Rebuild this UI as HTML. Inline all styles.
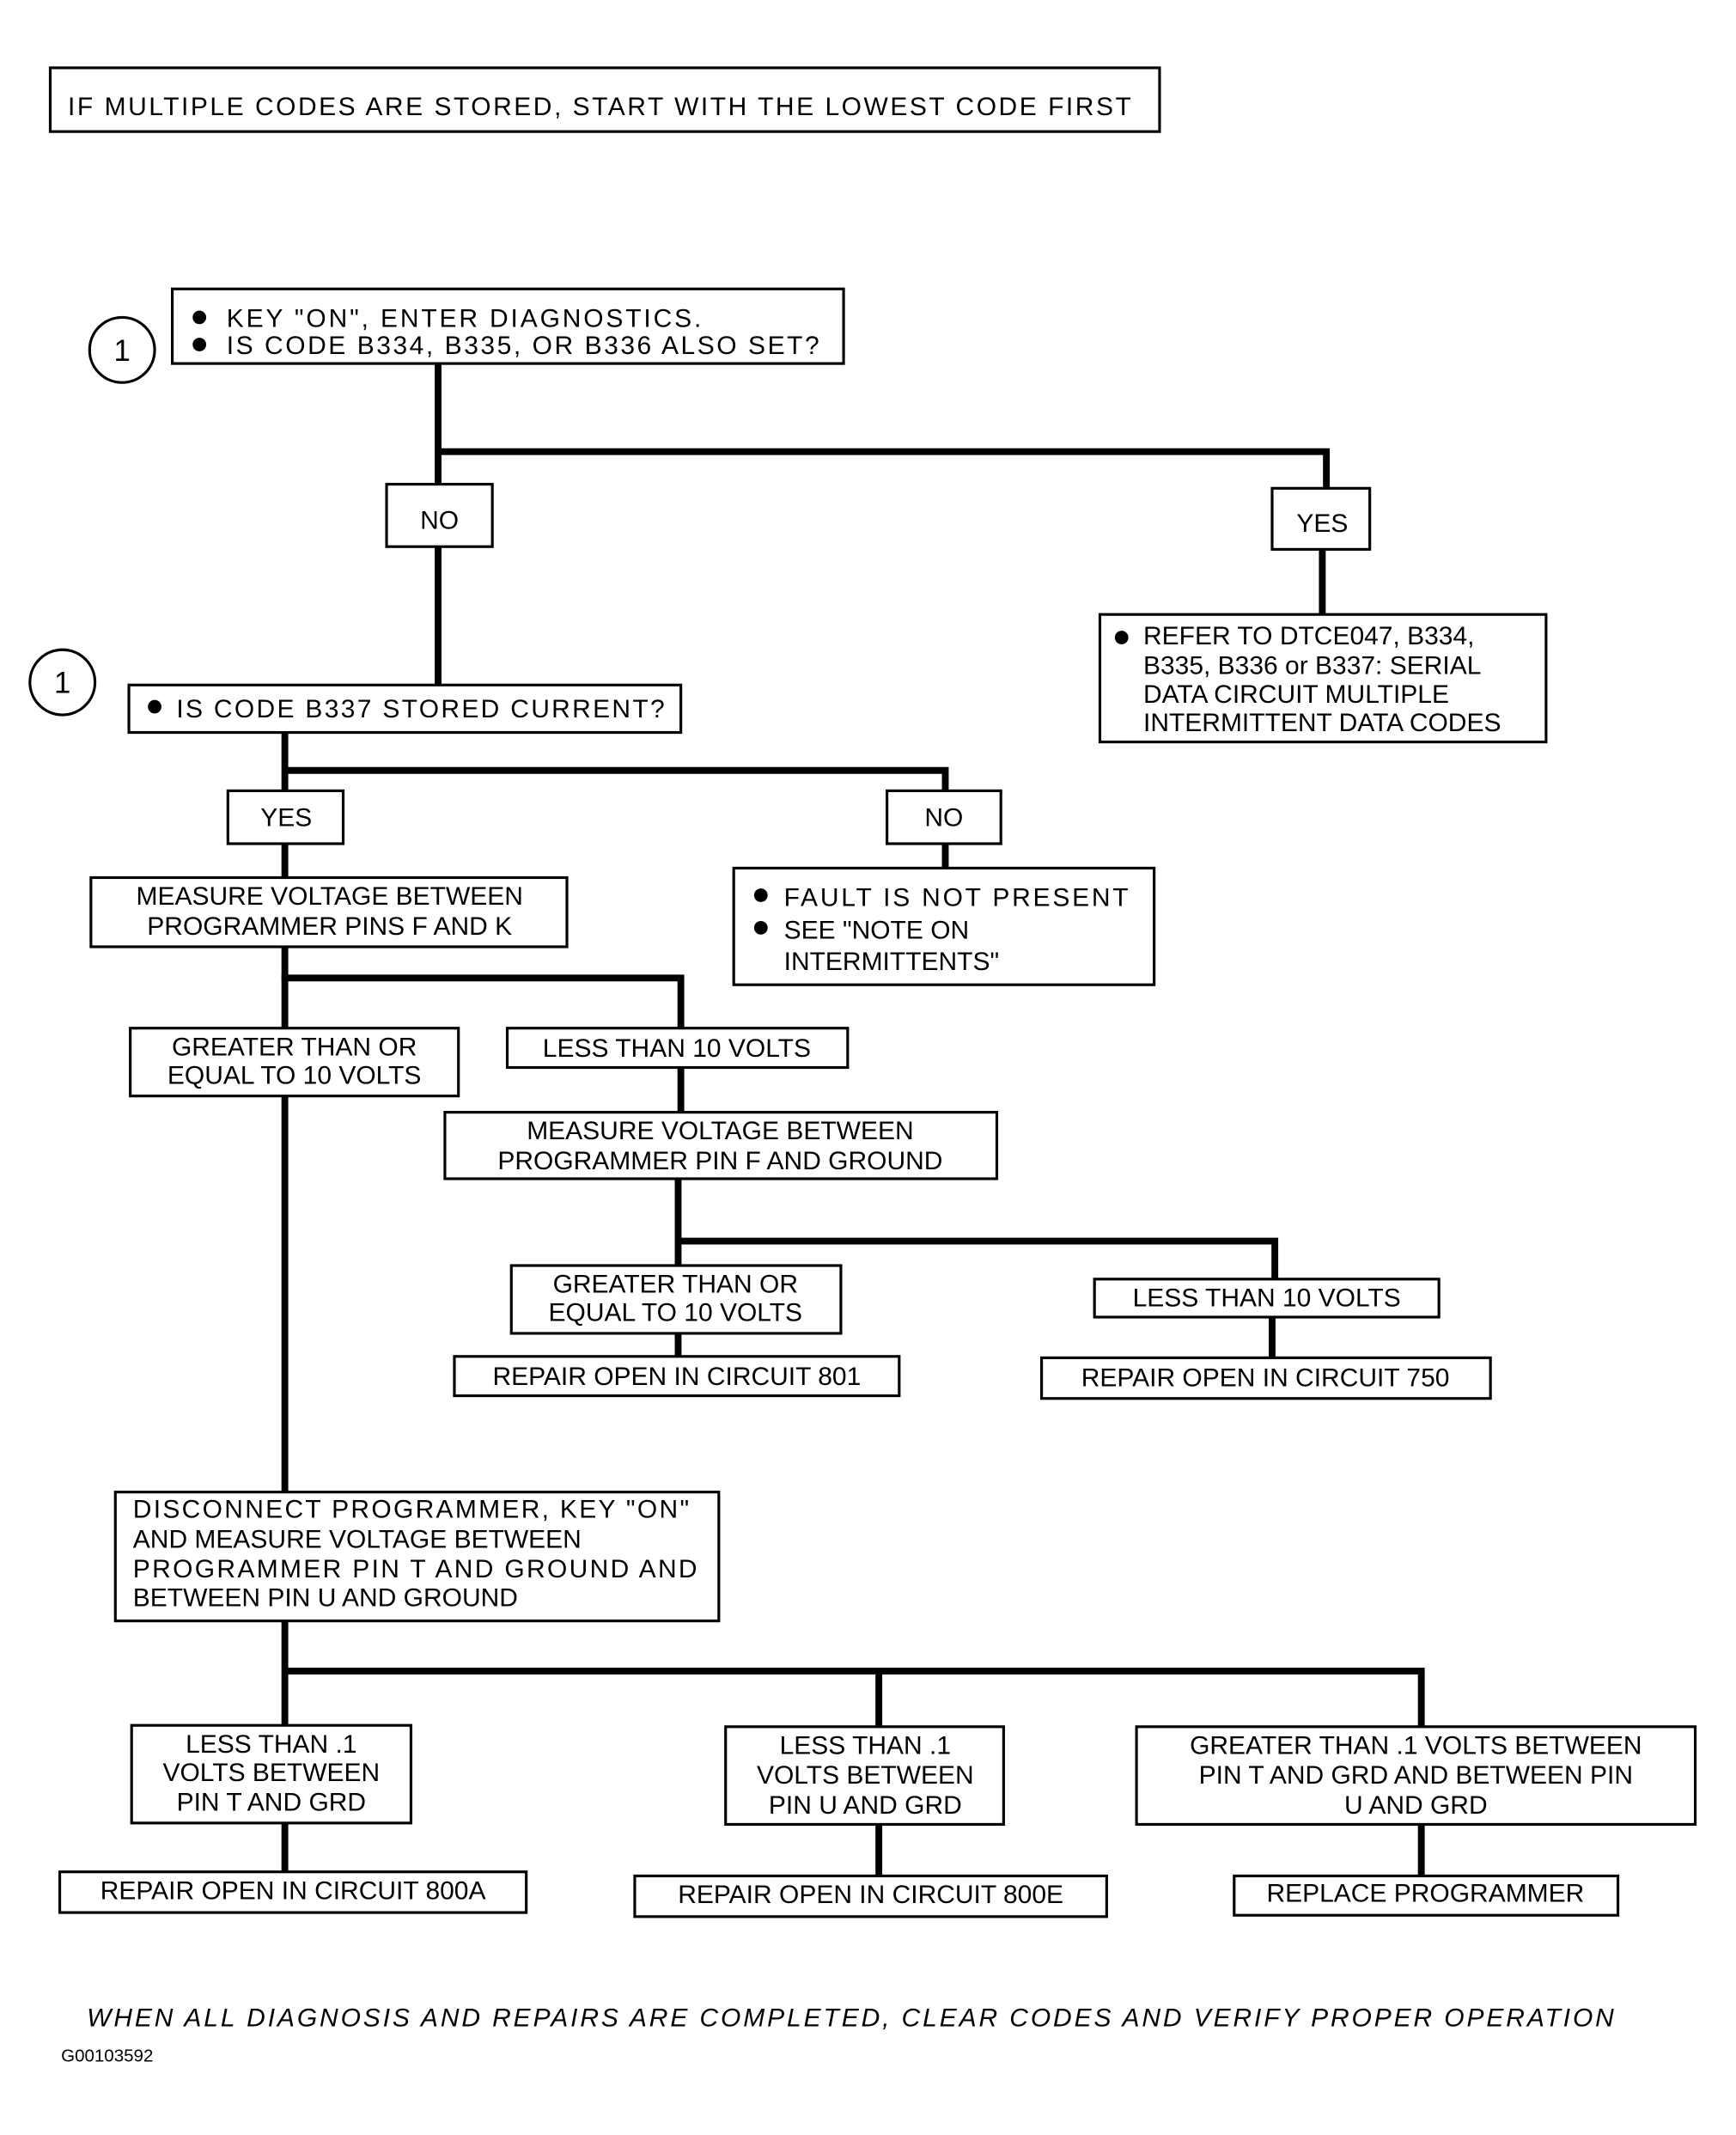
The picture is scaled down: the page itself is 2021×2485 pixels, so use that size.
<!DOCTYPE html>
<html><head><meta charset="utf-8"><style>html,body{margin:0;padding:0;background:#fff}svg{display:block}</style></head>
<body>
<svg width="2021" height="2485" viewBox="0 0 1280 1574" xmlns="http://www.w3.org/2000/svg" font-family="Liberation Sans, sans-serif" font-size="19" fill="#000">
<g fill="none" stroke="#000" stroke-width="5" stroke-linecap="square">
<path d="M323 268V357M323 403V505M323 333H978V360M975 405V453"/>
<path d="M210 540V1100M210 568H697V583M697 622V640"/>
<path d="M210 721H502V758M502 787V820"/>
<path d="M500 869V933M500 915H940V943M500 983V1000M938 971V1001"/>
<path d="M210 1195V1272M210 1232H1048V1273M648 1232V1273M210 1344V1380M648 1345V1383M1048 1345V1383"/>
</g>
<g fill="#fff" stroke="#000" stroke-width="2">
<rect x="37" y="50" width="818" height="47"/>
<circle cx="90" cy="258" r="24"/>
<rect x="127" y="213" width="495" height="55"/>
<rect x="285" y="357" width="78" height="46"/>
<rect x="938" y="360" width="72" height="45"/>
<rect x="811" y="453" width="329" height="94"/>
<circle cx="46" cy="503" r="24"/>
<rect x="95" y="505" width="407" height="35"/>
<rect x="168" y="583" width="85" height="39"/>
<rect x="654" y="583" width="84" height="39"/>
<rect x="541" y="640" width="310" height="86"/>
<rect x="67" y="647" width="351" height="51"/>
<rect x="96" y="758" width="242" height="50"/>
<rect x="374" y="758" width="251" height="29"/>
<rect x="328" y="820" width="407" height="49"/>
<rect x="377" y="933" width="243" height="50"/>
<rect x="335" y="1000" width="328" height="29"/>
<rect x="807" y="943" width="254" height="28"/>
<rect x="768" y="1001" width="331" height="30"/>
<rect x="85" y="1100" width="445" height="95"/>
<rect x="97" y="1272" width="206" height="72"/>
<rect x="44" y="1380" width="344" height="30"/>
<rect x="535" y="1273" width="205" height="72"/>
<rect x="468" y="1383" width="348" height="30"/>
<rect x="838" y="1273" width="412" height="72"/>
<rect x="910" y="1383" width="283" height="29"/>
</g>
<g>
<circle cx="147" cy="234" r="5"/><circle cx="147" cy="254" r="5"/>
<circle cx="827" cy="470" r="5"/>
<circle cx="114" cy="521" r="5"/>
<circle cx="561" cy="660" r="5"/><circle cx="561" cy="684" r="5"/>
</g>
<text x="50" y="85" textLength="784">IF MULTIPLE CODES ARE STORED, START WITH THE LOWEST CODE FIRST</text>
<text x="90" y="266" text-anchor="middle" font-size="22">1</text>
<text x="46" y="511" text-anchor="middle" font-size="22">1</text>
<text x="167" y="241" textLength="350">KEY "ON", ENTER DIAGNOSTICS.</text>
<text x="167" y="261" textLength="437">IS CODE B334, B335, OR B336 ALSO SET?</text>
<text x="324" y="390" text-anchor="middle">NO</text>
<text x="975" y="392" text-anchor="middle">YES</text>
<text x="843" y="475">REFER TO DTCE047, B334,</text>
<text x="843" y="497">B335, B336 or B337:  SERIAL</text>
<text x="843" y="518">DATA CIRCUIT MULTIPLE</text>
<text x="843" y="539">INTERMITTENT DATA CODES</text>
<text x="130" y="529" textLength="360">IS CODE B337 STORED CURRENT?</text>
<text x="211" y="609" text-anchor="middle">YES</text>
<text x="696" y="609" text-anchor="middle">NO</text>
<text x="578" y="668" textLength="254">FAULT IS NOT PRESENT</text>
<text x="578" y="692">SEE "NOTE ON</text>
<text x="578" y="715">INTERMITTENTS"</text>
<g text-anchor="middle">
<text x="243" y="667">MEASURE VOLTAGE BETWEEN</text>
<text x="243" y="689">PROGRAMMER PINS F AND K</text>
<text x="217" y="778">GREATER THAN OR</text>
<text x="217" y="799">EQUAL TO 10 VOLTS</text>
<text x="499" y="779">LESS THAN 10 VOLTS</text>
<text x="531" y="840">MEASURE VOLTAGE BETWEEN</text>
<text x="531" y="862">PROGRAMMER PIN F AND GROUND</text>
<text x="498" y="953">GREATER THAN OR</text>
<text x="498" y="974">EQUAL TO 10 VOLTS</text>
<text x="499" y="1021">REPAIR OPEN IN CIRCUIT 801</text>
<text x="934" y="963">LESS THAN 10 VOLTS</text>
<text x="933" y="1022">REPAIR OPEN IN CIRCUIT 750</text>
<text x="200" y="1292">LESS THAN .1</text>
<text x="200" y="1313">VOLTS BETWEEN</text>
<text x="200" y="1335">PIN T AND GRD</text>
<text x="216" y="1400">REPAIR OPEN IN CIRCUIT 800A</text>
<text x="638" y="1293">LESS THAN .1</text>
<text x="638" y="1315">VOLTS BETWEEN</text>
<text x="638" y="1337">PIN U AND GRD</text>
<text x="642" y="1403">REPAIR OPEN IN CIRCUIT 800E</text>
<text x="1044" y="1293">GREATER THAN .1 VOLTS BETWEEN</text>
<text x="1044" y="1315">PIN T AND GRD AND BETWEEN PIN</text>
<text x="1044" y="1337">U AND GRD</text>
<text x="1051" y="1402">REPLACE PROGRAMMER</text>
</g>
<text x="98" y="1119" textLength="410">DISCONNECT PROGRAMMER, KEY "ON"</text>
<text x="98" y="1141">AND MEASURE VOLTAGE BETWEEN</text>
<text x="98" y="1163" textLength="416">PROGRAMMER PIN T AND GROUND AND</text>
<text x="98" y="1184">BETWEEN PIN U AND GROUND</text>
<text x="64" y="1494" font-style="italic" textLength="1126">WHEN ALL DIAGNOSIS AND REPAIRS ARE COMPLETED, CLEAR CODES AND VERIFY PROPER OPERATION</text>
<text x="45" y="1520" font-size="13">G00103592</text>
</svg>
</body></html>
